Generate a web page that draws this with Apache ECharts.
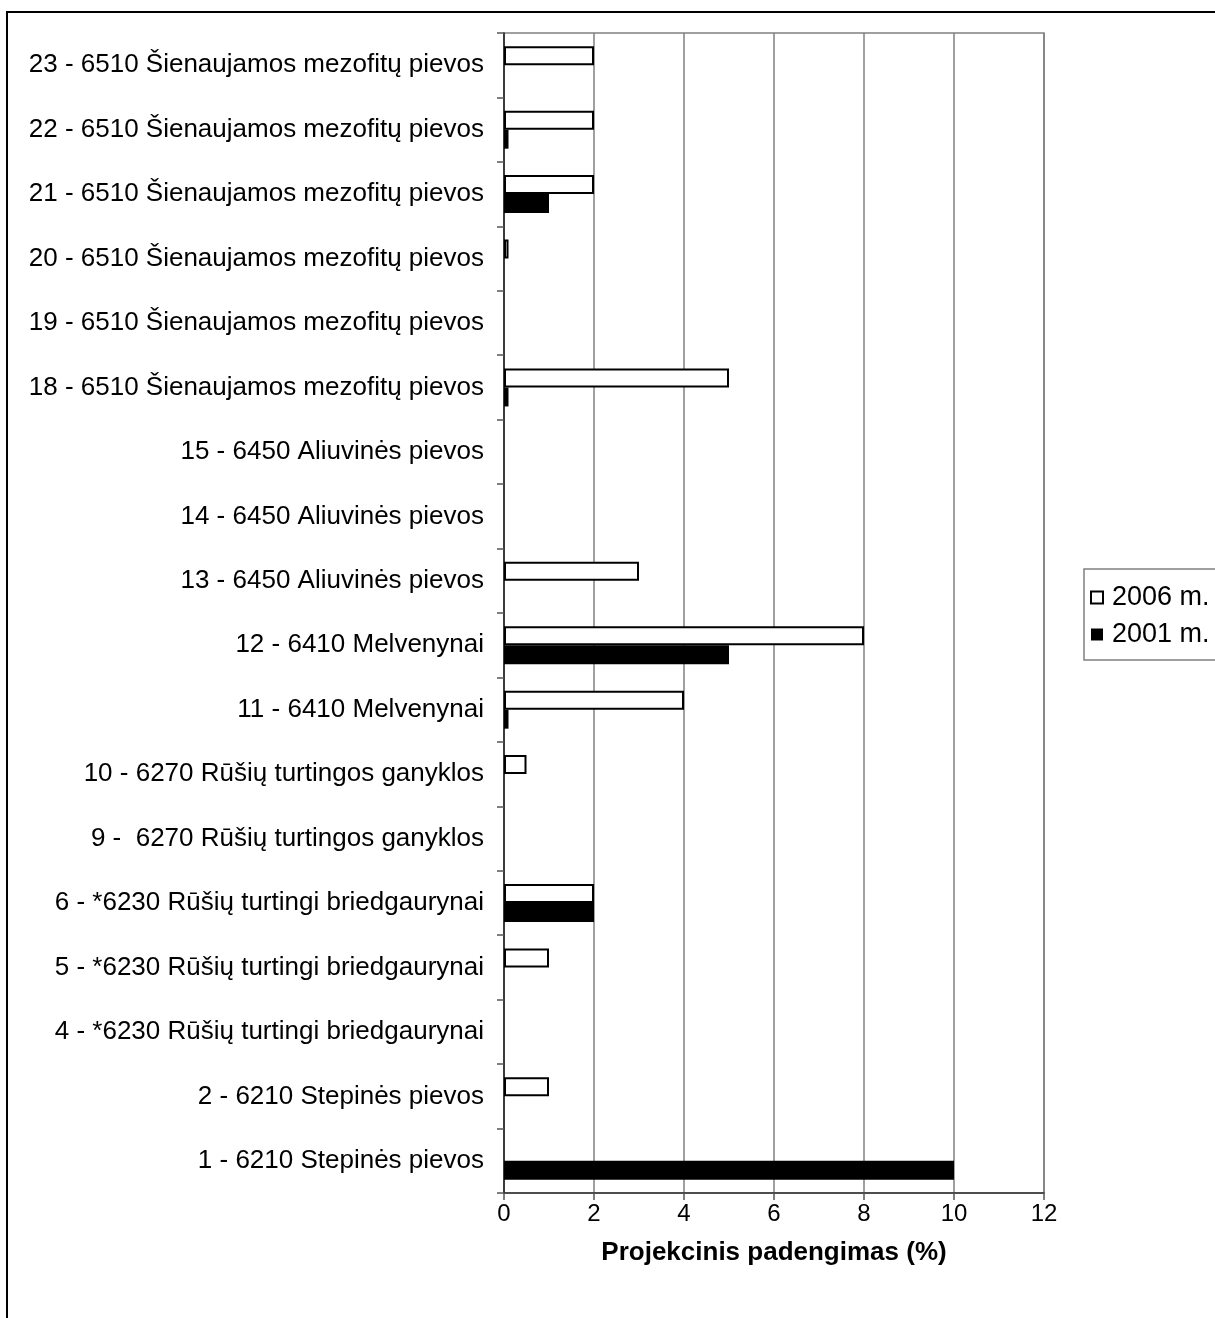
<!DOCTYPE html>
<html>
<head>
<meta charset="utf-8">
<script src="https://cdn.jsdelivr.net/npm/echarts@6/dist/echarts.min.js"></script>
<style>
html,body{margin:0;padding:0;background:#fff;}
#chart{width:1215px;height:1318px;}
</style>
</head>
<body>
<div id="chart"></div>
<script>
// Categories listed bottom to top
const categories = [
  '1 - 6210 Stepinės pievos',
  '2 - 6210 Stepinės pievos',
  '4 - *6230 Rūšių turtingi briedgaurynai',
  '5 - *6230 Rūšių turtingi briedgaurynai',
  '6 - *6230 Rūšių turtingi briedgaurynai',
  '9 -  6270 Rūšių turtingos ganyklos',
  '10 - 6270 Rūšių turtingos ganyklos',
  '11 - 6410 Melvenynai',
  '12 - 6410 Melvenynai',
  '13 - 6450 Aliuvinės pievos',
  '14 - 6450 Aliuvinės pievos',
  '15 - 6450 Aliuvinės pievos',
  '18 - 6510 Šienaujamos mezofitų pievos',
  '19 - 6510 Šienaujamos mezofitų pievos',
  '20 - 6510 Šienaujamos mezofitų pievos',
  '21 - 6510 Šienaujamos mezofitų pievos',
  '22 - 6510 Šienaujamos mezofitų pievos',
  '23 - 6510 Šienaujamos mezofitų pievos'
];
const values2006 = [0, 1, 0, 1, 2, 0, 0.5, 4, 8, 3, 0, 0, 5, 0, 0.1, 2, 2, 2];
const values2001 = [10, 0, 0, 0, 2, 0, 0, 0.1, 5, 0, 0, 0, 0.1, 0, 0, 1, 0.1, 0];
const xTicks = [0, 2, 4, 6, 8, 10, 12];
const seriesNames = ['2006 m.', '2001 m.'];
const xTitle = 'Projekcinis padengimas (%)';

// zero values draw no mark
const noZero = arr => arr.map(v => (v === 0 ? '-' : v));

const chart = echarts.init(document.getElementById('chart'), null, {renderer: 'canvas'});
const font = 'Liberation Sans, Arial, sans-serif';
chart.setOption({
  animation: false,
  backgroundColor: '#fff',
  textStyle: {fontFamily: font},
  graphic: [{
    type: 'rect',
    shape: {x: 7, y: 12, width: 1400, height: 1400},
    style: {fill: 'none', stroke: '#000', lineWidth: 2},
    silent: true,
    z: 100
  }],
  grid: {
    left: 504, right: 171, top: 33, bottom: 125,
    show: true, borderColor: '#808080', borderWidth: 1.5, backgroundColor: 'transparent'
  },
  legend: {
    data: [seriesNames[0], seriesNames[1]],
    orient: 'vertical',
    left: 1084, top: 569,
    padding: [15, 30, 12, 6],
    itemGap: 10,
    itemWidth: 12, itemHeight: 12,
    icon: 'rect',
    borderColor: '#808080', borderWidth: 1.5,
    textStyle: {fontSize: 27, color: '#000', fontFamily: font, padding: [0, 0, 0, 4]}
  },
  xAxis: {
    type: 'value',
    min: xTicks[0], max: xTicks[xTicks.length - 1], interval: 2,
    name: xTitle,
    nameLocation: 'middle',
    nameGap: 47,
    nameTextStyle: {fontSize: 26, fontWeight: 'bold', color: '#000', fontFamily: font},
    axisLine: {show: true, lineStyle: {color: '#333', width: 1.5}},
    axisTick: {show: true, length: 7, lineStyle: {color: '#555', width: 1.5}},
    axisLabel: {fontSize: 24, color: '#000', margin: 9, fontFamily: font},
    splitLine: {show: true, lineStyle: {color: '#808080', width: 1.5}}
  },
  yAxis: {
    type: 'category',
    data: categories,
    axisLine: {show: true, onZero: false, lineStyle: {color: '#222', width: 1.5}},
    axisTick: {show: true, length: 7, lineStyle: {color: '#555', width: 1.5}},
    axisLabel: {fontSize: 26, color: '#000', margin: 20, fontFamily: font},
    splitLine: {show: false}
  },
  series: [
    {
      name: seriesNames[0],
      type: 'bar',
      data: noZero(values2006),
      barWidth: 19,
      barGap: '0%',
      itemStyle: {color: '#fff', borderColor: '#000', borderWidth: 2}
    },
    {
      name: seriesNames[1],
      type: 'bar',
      data: noZero(values2001),
      barWidth: 19,
      barGap: '0%',
      itemStyle: {color: '#000', borderColor: '#000', borderWidth: 0}
    }
  ]
});
</script>
</body>
</html>
